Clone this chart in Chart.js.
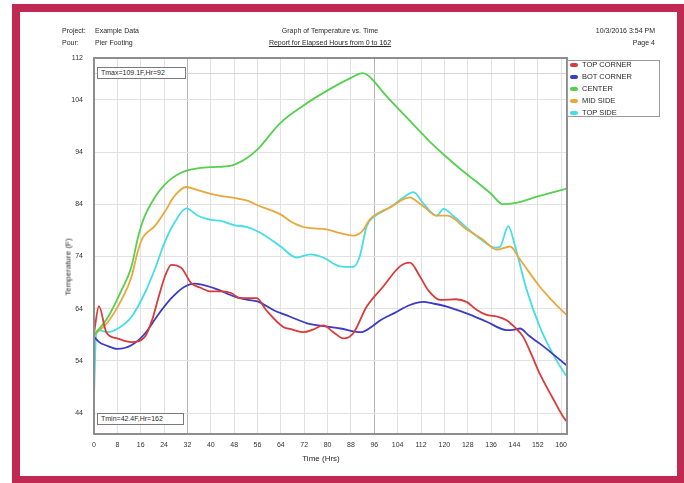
<!DOCTYPE html>
<html>
<head>
<meta charset="utf-8">
<script src="https://cdn.jsdelivr.net/npm/chart.js@4.4.1/dist/chart.umd.min.js"></script>
<style>
html,body{margin:0;padding:0;background:#fff;}
#page{position:relative;width:684px;height:483px;overflow:hidden;font-family:"Liberation Sans",Arial,sans-serif;color:#2a2a2a;}
#frame{position:absolute;left:12px;top:4px;width:672px;height:479px;box-sizing:border-box;border-style:solid;border-color:#c02a52;border-width:8px 7px 7px 8px;pointer-events:none;z-index:5;}
canvas{position:absolute;left:0;top:0;}
.t{position:absolute;font-size:7px;line-height:8px;white-space:nowrap;}
.c{transform:translateX(-50%);}
.r{transform:translateX(-100%);}
.box{position:absolute;box-sizing:border-box;border:1px solid #7a7a7a;background:#fff;font-size:7px;line-height:10px;padding-left:3px;white-space:nowrap;}
#legend{position:absolute;left:567px;top:60px;width:93px;height:57px;box-sizing:border-box;border:1px solid #9a9a9a;background:#fff;}
.li{position:absolute;left:0;height:12px;line-height:12px;font-size:7.5px;white-space:nowrap;}
.sw{position:absolute;left:2px;top:4px;width:8px;height:4px;border-radius:2px;}
.lt{position:absolute;left:14px;top:0;}
#ytitle{position:absolute;left:68px;top:267px;font-size:8px;line-height:9px;white-space:nowrap;transform:translate(-50%,-50%) rotate(-90deg);}
</style>
</head>
<body>
<div id="page">
  <canvas id="c" width="684" height="483"></canvas>
  <div id="frame"></div>
  <div class="t" style="left:62px;top:27px;">Project:</div>
  <div class="t" style="left:95px;top:27px;">Example Data</div>
  <div class="t" style="left:62px;top:39px;">Pour:</div>
  <div class="t" style="left:95px;top:39px;">Pier Footing</div>
  <div class="t c" style="left:330px;top:27px;">Graph of Temperature vs. Time</div>
  <div class="t c" style="left:330px;top:39px;text-decoration:underline;">Report for Elapsed Hours from 0 to 162</div>
  <div class="t r" style="left:655px;top:27px;">10/3/2016 3:54 PM</div>
  <div class="t r" style="left:655px;top:39px;">Page 4</div>
  <div id="ytitle">Temperature (F)</div>
  <div class="t c" style="left:321px;top:454px;font-size:8px;line-height:9px;">Time (Hrs)</div>
  <div class="box" style="left:97px;top:67px;width:89px;height:12px;">Tmax=109.1F,Hr=92</div>
  <div class="box" style="left:97px;top:413px;width:87px;height:12px;">Tmin=42.4F,Hr=162</div>
  <div id="legend"></div>
</div>
<script>
// ---- data ----
const seriesNames = ["TOP CORNER", "BOT CORNER", "CENTER", "MID SIDE", "TOP SIDE"];
const seriesColors = ["#d93b3b", "#3b3bc4", "#55d04f", "#e9a83c", "#45dde6"];

const topCornerHours = [0,1.7,4.2,8,12.8,17.4,20,22,24.5,26.5,29.9,33.3,36.5,40,44,47,50,55.7,59,64.8,68,71.7,75,78.5,82,85.4,88.8,93.4,99,104.8,108.2,111.6,114.5,118.5,124,127.6,131,134.5,138,141.3,144,147,150,152.7,157,161.3,162];
const topCornerTemps = [59.3,64.5,59.5,58.3,57.6,58.6,62,66,70.5,72.4,71.8,68.9,68,67.3,67.3,67,66,66,63.7,60.5,60,59.5,60,60.8,59.5,58.3,59.3,64.4,68.2,72.1,72.8,70.2,67.5,65.7,65.8,65.3,63.8,62.8,62.5,61.8,60.5,58.6,55,51.5,47,42.8,42.4];

const botCornerHours = [0,2,4,8,12.8,17.4,21.9,26.5,31,34.4,41.3,48.2,52.7,56,61.6,67,73,78,84.4,91.3,95,98.1,103,108.2,112.8,116,120.9,127.6,134.5,141.3,144,145.9,149,152.7,157,161.3,162];
const botCornerTemps = [58.6,57.5,57,56.3,57,59.2,62.8,66,68.2,68.8,67.9,66.3,65.7,65.4,63.7,62.5,61.2,60.7,60.2,59.5,60.5,61.8,63.2,64.7,65.3,65,64.4,63.1,61.5,59.9,60,60.2,58.8,57.3,55.4,53.4,53.1];

const centerHours = [0,4.8,9.4,12.8,15,17,20.8,24,26.5,29,32,36,40,47,52,56,63.7,72,80,88,92,94,100,109,115,120.8,126,131,136,140,144,152,161.3,162];
const centerTemps = [58.9,62.4,67.5,72,77.5,81.2,85.3,87.6,88.9,89.8,90.5,90.9,91.1,91.4,92.7,94.5,99.5,103,105.8,108.2,109.1,108.6,104.8,99.5,96,93,90.5,88.3,86,84,84.2,85.5,86.9,87];

const midSideHours = [0,4.8,9.4,12.8,15,16.7,20.8,24.2,27.6,31.6,35,40,43.4,48,52.5,56,63.7,68,72.8,79.7,84,88.8,92,94.5,101.4,108.2,109.4,113,117.4,121,127.6,133,137.9,142.5,145.9,152.7,157,161.3,162];
const midSideTemps = [58.9,61.5,65.7,70,75,77.6,79.8,82.5,85.6,87.3,86.8,86,85.6,85.2,84.7,83.8,82.1,80.5,79.5,79.2,78.5,78,78.9,81.1,83.4,85.3,85,83.5,81.8,81.8,79.2,77.3,75.3,75.9,73.4,68.2,65.5,63.1,62.8];

const topSideHours = [0,0.6,1.3,4.8,8.2,12.8,17.4,20.8,24.2,27.6,31.6,35.6,40,43.4,48,52.5,56.8,63.7,69.4,74,78.5,84.2,88.8,91,93.4,95.7,101.4,106,109.4,113,117.4,119.7,123,127.6,132,137.3,139,141.9,144.2,148.2,152.7,157,161.3,162];
const topSideTemps = [47,58,59.9,59.5,60.2,62.4,67,71.5,76.7,80.5,83.2,81.8,81,80.8,80,79.6,78.6,76,73.8,74.4,73.8,72.1,72,74,79.8,81.5,83.4,85.3,86.3,84,81.8,83.1,81.8,79.5,77.5,75.7,75.8,79.8,76,67.6,60.5,55.5,51.5,51];

const xTickValues = [0,8,16,24,32,40,48,56,64,72,80,88,96,104,112,120,128,136,144,152,160];
const yTickValues = [44,54,64,74,84,94,104,112];
const xMajorGrid = [32,96];
const TMAX = 109.1;
const TMIN = 42.4;

// ---- build ----
const hoursList = [topCornerHours, botCornerHours, centerHours, midSideHours, topSideHours];
const tempsList = [topCornerTemps, botCornerTemps, centerTemps, midSideTemps, topSideTemps];

const datasets = seriesNames.map((name, i) => ({
  label: name,
  data: hoursList[i].map((h, k) => ({x: h, y: tempsList[i][k]})),
  borderColor: seriesColors[i],
  backgroundColor: seriesColors[i],
  borderWidth: 1.8,
  pointRadius: 0,
  cubicInterpolationMode: 'monotone',
  fill: false
}));

// legend (HTML)
const leg = document.getElementById('legend');
seriesNames.forEach((name, i) => {
  const row = document.createElement('div');
  row.className = 'li';
  row.style.top = (i * 11.9 - 2) + 'px';
  row.innerHTML = '<span class="sw" style="background:' + seriesColors[i] + '"></span><span class="lt">' + name + '</span>';
  leg.appendChild(row);
});

const font = {family: '"Liberation Sans", Arial, sans-serif', size: 7};

const framePlugin = {
  id: 'frame',
  beforeDatasetsDraw(chart) {
    const {ctx, chartArea: a, scales: {y}} = chart;
    const yy = Math.round(y.getPixelForValue(TMAX)) + 0.5;
    ctx.save();
    ctx.strokeStyle = '#d4d4d4';
    ctx.lineWidth = 1;
    ctx.beginPath();
    ctx.moveTo(a.left, yy);
    ctx.lineTo(a.right, yy);
    ctx.stroke();
    ctx.restore();
  },
  afterDraw(chart) {
    const {ctx, chartArea: a} = chart;
    ctx.save();
    ctx.strokeStyle = '#8e8e8e';
    ctx.lineWidth = 2;
    ctx.strokeRect(a.left, a.top, a.right - a.left, a.bottom - a.top);
    ctx.restore();
  }
};

new Chart(document.getElementById('c'), {
  type: 'line',
  data: {datasets},
  options: {
    responsive: false,
    animation: false,
    devicePixelRatio: 1,
    layout: {padding: {left: 0, top: 58, right: 117, bottom: 0}},
    plugins: {legend: {display: false}, tooltip: {enabled: false}, title: {display: false}},
    scales: {
      x: {
        type: 'linear', min: 0, max: 162,
        afterBuildTicks: s => { s.ticks = xTickValues.map(v => ({value: v})); },
        afterFit: s => { s.height = 49; },
        grid: {
          color: c => (c.tick && xMajorGrid.includes(c.tick.value)) ? '#b4b4b4' : '#e2e2e2',
          lineWidth: 1, drawTicks: false
        },
        border: {display: false},
        ticks: {font, color: '#333', padding: 7, maxRotation: 0, autoSkip: false}
      },
      y: {
        type: 'linear', min: 40, max: 112,
        afterBuildTicks: s => { s.ticks = yTickValues.map(v => ({value: v})); },
        afterFit: s => { s.width = 94; },
        grid: {color: '#e2e2e2', lineWidth: 1, drawTicks: false},
        border: {display: false},
        ticks: {font, color: '#333', padding: 11, autoSkip: false}
      }
    }
  },
  plugins: [framePlugin]
});
</script>
</body>
</html>
